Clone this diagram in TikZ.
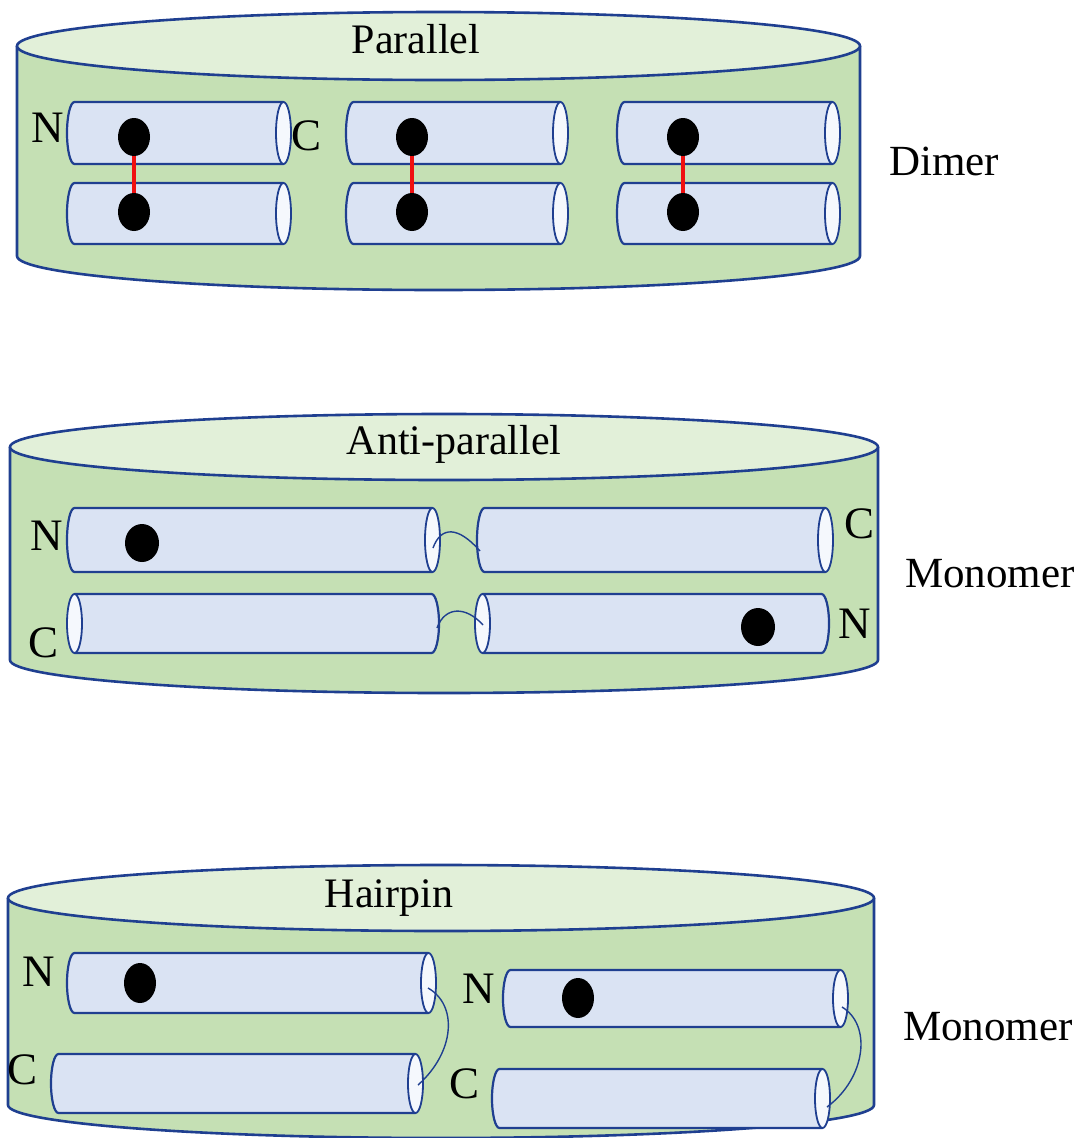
\documentclass[tikz,border=0pt]{standalone}
\usepackage{fontspec}
\setmainfont{Liberation Serif}
\definecolor{canbody}{HTML}{C5E0B4}
\definecolor{cantop}{HTML}{E2F0D9}
\definecolor{tubefill}{HTML}{DAE3F3}
\definecolor{capfill}{HTML}{F5F8FD}
\definecolor{edgeblue}{HTML}{1F3F90}
\definecolor{linkred}{HTML}{F01010}

\tikzset{
  canline/.style={draw=edgeblue, line width=2.6pt, line join=round},
  cantopstyle/.style={fill=cantop, draw=edgeblue, line width=2.6pt},
  tubestyle/.style={fill=tubefill, draw=edgeblue, line width=2.2pt, line join=round},
  capstyle/.style={fill=capfill, draw=edgeblue, line width=1.8pt},
  blob/.style={fill=black},
  link/.style={draw=linkred, line width=4pt},
  loopline/.style={draw=edgeblue, line width=1.4pt},
  title/.style={font=\fontsize{42}{48}\selectfont, inner sep=0pt, anchor=base},
  kind/.style={font=\fontsize{43}{50}\selectfont, inner sep=0pt, anchor=base},
  term/.style={font=\fontsize{45}{52}\selectfont, inner sep=0pt, anchor=base},
}

\def\capr{7.5}

% vertical can: left x, right x, top-ellipse centre y, bottom-ellipse centre y, y radius
\newcommand\candisk[5]{%
  \pgfmathsetmacro\cnx{(#1+#2)/2}%
  \pgfmathsetmacro\cnr{(#2-#1)/2}%
  \fill[canbody] (#1,#3) -- (#1,#4) arc[start angle=180,end angle=0,x radius=\cnr,y radius=#5] -- (#2,#3) -- cycle;
  \draw[canline] (#1,#3) -- (#1,#4) arc[start angle=180,end angle=0,x radius=\cnr,y radius=#5] -- (#2,#3);
  \path[cantopstyle] (\cnx,#3) ellipse[x radius=\cnr,y radius=#5];
}

% horizontal tube with its open cap on the right: left x, right x, top y, bottom y
\newcommand\tuberight[4]{%
  \pgfmathsetmacro\tbm{(#3+#4)/2}%
  \pgfmathsetmacro\tbh{(#4-#3)/2}%
  \path[tubestyle] (#2-\capr,#3) -- (#1+\capr,#3)
     arc[start angle=270,end angle=90,x radius=\capr,y radius=\tbh]
     -- (#2-\capr,#4) -- cycle;
  \path[capstyle] (#2-\capr,\tbm) ellipse[x radius=\capr,y radius=\tbh];
}

% horizontal tube with its open cap on the left
\newcommand\tubeleft[4]{%
  \pgfmathsetmacro\tbm{(#3+#4)/2}%
  \pgfmathsetmacro\tbh{(#4-#3)/2}%
  \path[tubestyle] (#1+\capr,#3) -- (#2-\capr,#3)
     arc[start angle=270,end angle=450,x radius=\capr,y radius=\tbh]
     -- (#1+\capr,#4) -- cycle;
  \path[capstyle] (#1+\capr,\tbm) ellipse[x radius=\capr,y radius=\tbh];
}

\begin{document}
\begin{tikzpicture}[x=1pt,y=-1pt]
\useasboundingbox (0,0) rectangle (1086,1138);
\fill[white] (0,0) rectangle (1086,1138);
\clip (0,0) rectangle (1086,1138);

%% ---------- Parallel ----------
\candisk{17}{860}{46}{256}{34}
\tuberight{67}{291}{102}{164}
\tuberight{67}{291}{183}{244}
\tuberight{346}{568}{102}{164}
\tuberight{346}{568}{183}{244}
\tuberight{617}{840}{102}{164}
\tuberight{617}{840}{183}{244}

\foreach \px/\nm in {134/a,412/b,683/c}{
  \path[blob] (\px,137) ellipse[x radius=16,y radius=19];
  \path[blob] (\px,212) ellipse[x radius=16,y radius=19];
  \coordinate (up\nm) at (\px,156);
  \coordinate (dn\nm) at (\px,193);
  \draw[link] (up\nm) -- (dn\nm);
}

\node[title] (ttlpar) at (416,53) {Parallel};
\node[kind] (dimer) at (944,175) {Dimer};
\node[term] (parN) at (48,142) {N};
\node[term] (parC) at (307,150) {C};

%% ---------- Anti-parallel ----------
\candisk{10}{878}{447}{660}{33}
\tuberight{67}{440}{508}{572}
\tuberight{477}{833}{508}{572}
\tubeleft{67}{439}{594}{653}
\tubeleft{475}{829}{594}{653}

\path[blob] (142,543) ellipse[x radius=17,y radius=19];
\path[blob] (758,627) ellipse[x radius=17,y radius=19];

\coordinate (apA1) at (433,548);
\coordinate (apA2) at (480,551);
\coordinate (apB1) at (437,628);
\coordinate (apB2) at (483,625);
\draw[loopline] (apA1) .. controls (441,526) and (458,526) .. (apA2);
\draw[loopline] (apB1) .. controls (445,606) and (466,606) .. (apB2);

\node[title] (ttlanti) at (454,454) {Anti-parallel};
\node[kind] (mono1) at (990,587) {Monomer};
\node[term] (apN1) at (47,550) {N};
\node[term] (apC1) at (44,657) {C};
\node[term] (apC2) at (859,538) {C};
\node[term] (apN2) at (855,638) {N};

%% ---------- Hairpin ----------
\candisk{8}{874}{898}{1105}{33}
\tuberight{67}{436}{953}{1013}
\tuberight{51}{423}{1054}{1113}
\tuberight{503}{848}{970}{1027}
\tuberight{492}{830}{1069}{1128}

\path[blob] (140,983) ellipse[x radius=16,y radius=20];
\path[blob] (578,998) ellipse[x radius=16,y radius=20];

\coordinate (hpA1) at (428,988);
\coordinate (hpA2) at (418,1085);
\coordinate (hpB1) at (842,1007);
\coordinate (hpB2) at (827,1107);
\draw[loopline] (hpA1) .. controls (458,1005) and (455,1052) .. (hpA2);
\draw[loopline] (hpB1) .. controls (872,1025) and (866,1078) .. (hpB2);

\node[title] (ttlhair) at (389,907) {Hairpin};
\node[kind] (mono2) at (988,1040) {Monomer};
\node[term] (hpN1) at (39,986) {N};
\node[term] (hpC1) at (23,1084) {C};
\node[term] (hpN2) at (479,1003) {N};
\node[term] (hpC2) at (465,1098) {C};
\end{tikzpicture}
\end{document}
